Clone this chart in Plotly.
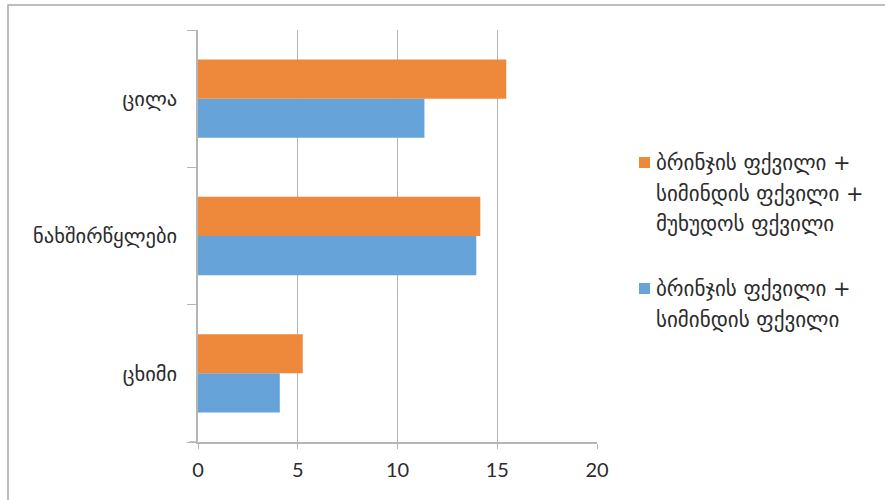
import plotly.graph_objects as go

# Nutrient categories, listed bottom to top
categories = ["ცხიმი", "ნახშირწყლები", "ცილა"]

# Series: rice + corn flour
rice_corn_name = ["ბრინჯის ფქვილი +", "სიმინდის ფქვილი"]
rice_corn = [4.1, 13.95, 11.35]

# Series: rice + corn + chickpea flour
rice_corn_chickpea_name = ["ბრინჯის ფქვილი +", "სიმინდის ფქვილი +", "მუხუდოს ფქვილი"]
rice_corn_chickpea = [5.25, 14.15, 15.45]

x_ticks = [0, 5, 10, 15, 20]

BLUE = "#65A3D9"
ORANGE = "#EE883B"
GRID = "#b5b5b5"
TEXT = "#2b2b2b"
GEO_FONT = "DejaVu Sans"
NUM_FONT = "Lato"

W, H = 885, 500
ML, MR, MT, MB = 198, 288, 30, 58
PW, PH = W - ML - MR, H - MT - MB


def px_x(px):
    return (px - ML) / PW


def px_y(py):
    return (H - MB - py) / PH


fig = go.Figure()
fig.add_trace(go.Bar(
    y=categories, x=rice_corn, orientation="h",
    name="<br>".join(rice_corn_name), marker=dict(color=BLUE, line=dict(width=0)),
    showlegend=False,
))
fig.add_trace(go.Bar(
    y=categories, x=rice_corn_chickpea, orientation="h",
    name="<br>".join(rice_corn_chickpea_name), marker=dict(color=ORANGE, line=dict(width=0)),
    showlegend=False,
))

# Legend drawn as swatches plus one text line per row
shapes = []
annotations = []
legend_items = [
    (ORANGE, rice_corn_chickpea_name, 157),
    (BLUE, rice_corn_name, 283),
]
line_step = 31
for color, lines, top in legend_items:
    shapes.append(dict(
        type="rect", xref="paper", yref="paper",
        x0=px_x(639), x1=px_x(650), y0=px_y(top), y1=px_y(top + 11),
        fillcolor=color, line=dict(width=0),
    ))
    for i, text in enumerate(lines):
        annotations.append(dict(
            text=text, xref="paper", yref="paper",
            x=px_x(654), y=px_y(top + 5.5 + i * line_step),
            xanchor="left", yanchor="middle", showarrow=False,
            font=dict(family=GEO_FONT, size=21, color=TEXT),
        ))

# Outer chart frame
shapes.append(dict(
    type="rect", xref="paper", yref="paper",
    x0=px_x(8), x1=px_x(W + 20), y0=px_y(H + 20), y1=px_y(5),
    line=dict(color="#a8a8a8", width=1.5), fillcolor="rgba(0,0,0,0)", layer="below",
))

# Short extension of the value axis line to the left of the category axis
shapes.append(dict(
    type="line", xref="paper", yref="paper",
    x0=px_x(189), x1=0, y0=0, y1=0,
    line=dict(color=GRID, width=1.5),
))

fig.update_layout(
    width=W, height=H,
    margin=dict(l=ML, r=MR, t=MT, b=MB),
    paper_bgcolor="white", plot_bgcolor="white",
    barmode="group", bargap=0.43, bargroupgap=0,
    shapes=shapes, annotations=annotations,
    xaxis=dict(
        range=[0, 20], tickvals=x_ticks, ticktext=[str(v) for v in x_ticks],
        showgrid=True, gridcolor=GRID, gridwidth=1.3,
        zeroline=False, showline=True, linecolor=GRID, linewidth=1.5,
        ticks="outside", ticklen=5, tickcolor=GRID, tickwidth=1.3,
        tickfont=dict(family=NUM_FONT, size=20, color=TEXT),
        ticklabelstandoff=4, fixedrange=True,
    ),
    yaxis=dict(
        type="category", categoryorder="array", categoryarray=categories,
        showgrid=False, zeroline=False, showline=True, linecolor=GRID, linewidth=1.5,
        ticks="outside", tickson="boundaries", ticklen=9, tickcolor=GRID, tickwidth=1.3,
        tickfont=dict(family=GEO_FONT, size=20.5, color=TEXT),
        ticklabelstandoff=15, fixedrange=True,
    ),
)

fig.write_html("out.html", config={"displayModeBar": False})
